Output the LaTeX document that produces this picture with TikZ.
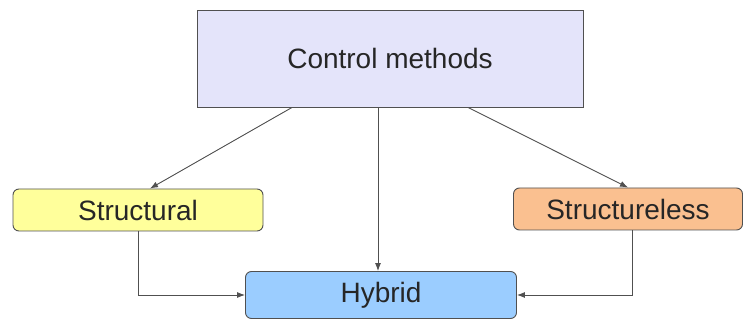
\documentclass[tikz,border=0pt]{standalone}
\usepackage{fontspec}
\setmainfont{Liberation Sans}
\usetikzlibrary{positioning,arrows.meta}

\definecolor{ctrlfill}{RGB}{228,228,250}
\definecolor{structfill}{RGB}{255,255,155}
\definecolor{slessfill}{RGB}{250,192,144}
\definecolor{hybfill}{RGB}{155,205,255}
\definecolor{edgegray}{RGB}{80,80,80}

\begin{document}
\begin{tikzpicture}[on grid,
		box/.style={draw=edgegray, line width=0.9pt, inner sep=0pt, text=black!85,
			font=\fontsize{28}{32}\selectfont},
		arr/.style={draw=edgegray, line width=0.9pt, -{Latex[length=8pt,width=6pt]}}]
		\useasboundingbox (0,0) rectangle (744pt,-320pt);
		\node[box, fill=ctrlfill, minimum width=386pt, minimum height=97pt] (ctrl) at (390pt,-58.5pt) {Control methods};
		\node[box, fill=structfill, rounded corners=6pt, minimum width=250pt, minimum height=42pt] (struct) [below left=151.5pt and 252pt of ctrl] {Structural};
		\node[box, fill=slessfill, rounded corners=6pt, minimum width=229pt, minimum height=42pt] (sless) [below right=150.5pt and 238pt of ctrl] {Structureless};
		\node[box, fill=hybfill, rounded corners=6pt, minimum width=271pt, minimum height=47pt] (hyb) [below left=236.5pt and 9pt of ctrl] {Hybrid};
		\draw[arr] ([xshift=-98pt]ctrl.south) -- ([xshift=12pt]struct.north);
		\draw[arr] ([xshift=78pt]ctrl.south) -- (sless.north);
		\draw[arr] ([xshift=-12pt]ctrl.south) -- ([xshift=-12pt]ctrl.south |- hyb.north);
		\draw[arr] (struct.south) |- (hyb.west);
		\draw[arr] ([xshift=4pt]sless.south) |- (hyb.east);
	\end{tikzpicture}
\end{document}
